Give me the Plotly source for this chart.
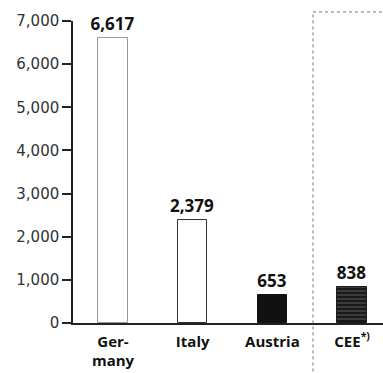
import plotly.graph_objects as go

countries = ['Ger-<br>many', 'Italy', 'Austria', 'CEE<sup>*)</sup>']
values = [6617, 2379, 653, 838]
y_ticks = [0, 1000, 2000, 3000, 4000, 5000, 6000, 7000]

pos = list(range(len(countries)))
font = 'Open Sans, Noto Sans, sans-serif'

fig = go.Figure()

fig.add_trace(go.Bar(
    x=pos, y=values, width=0.37,
    marker=dict(
        color=['white', 'white', '#111111', '#1a1a1a'],
        line=dict(color=['#999999', '#333333', '#111111', '#1a1a1a'], width=1),
        pattern=dict(shape=['', '', '', '-'], fgcolor='#777777', size=4, solidity=0.15),
    ),
    texttemplate='<b>%{y:,}</b>', textposition='outside', cliponaxis=False,
    constraintext='none',
    textfont=dict(family=font, size=17, color='#111111'),
    showlegend=False,
))

# dashed outline around the CEE block
fig.add_shape(type='line', xref='x', yref='paper', x0=2.51, x1=2.51, y0=-0.2, y1=1.03,
              line=dict(color='#777777', width=1, dash='dot'))
fig.add_shape(type='line', xref='x', yref='paper', x0=2.51, x1=3.4, y0=1.03, y1=1.03,
              line=dict(color='#777777', width=1, dash='dot'))

fig.update_layout(
    width=383, height=373,
    margin=dict(l=73, r=0, t=21, b=50),
    plot_bgcolor='white', paper_bgcolor='white',
    font=dict(family=font, size=15, color='#222222'),
    bargap=0,
)
fig.update_xaxes(
    range=[-0.502, 3.388], tickvals=pos,
    ticktext=['<b>' + c + '</b>' for c in countries],
    showline=True, linecolor='#222222', linewidth=1.5,
    showgrid=False, zeroline=False, ticks='', ticklabelstandoff=4,
    tickfont=dict(size=15, color='#111111'),
)
fig.update_yaxes(
    range=[0, 7000], tickvals=y_ticks, tickformat=',',
    showline=True, linecolor='#222222', linewidth=1.5,
    ticks='outside', ticklen=9, tickwidth=1.5, tickcolor='#222222',
    showgrid=False, zeroline=False,
    tickfont=dict(family='DejaVu Sans, sans-serif', size=15, color='#333333'),
)

fig.write_html('out.html', config={'displayModeBar': False},
               post_script="document.body.style.margin='0';")
